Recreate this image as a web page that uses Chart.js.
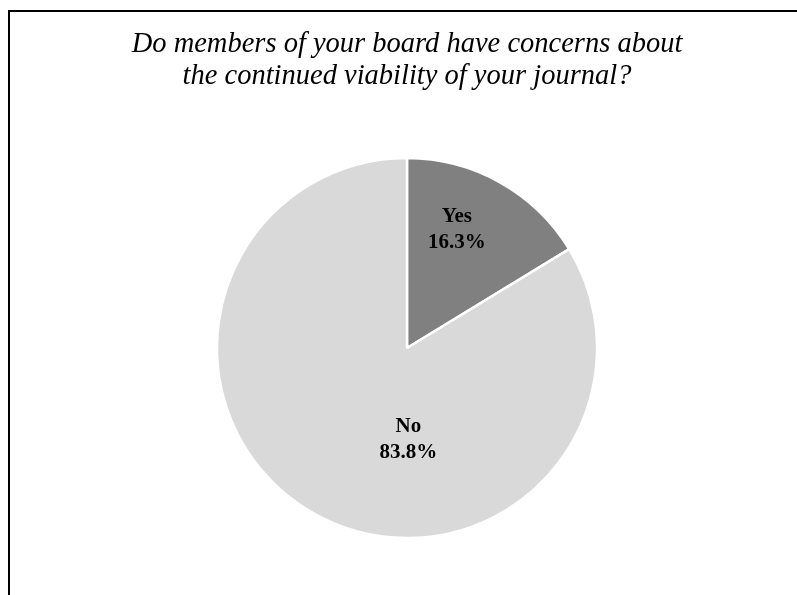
<!DOCTYPE html>
<html lang="en">
<head>
    <meta charset="UTF-8">
    <title>Board concerns about journal viability</title>
    <style>
        html, body {
            margin: 0;
            padding: 0;
            background: #ffffff;
            overflow: hidden;
        }
        .frame {
            position: absolute;
            left: 8px;
            top: 10px;
            width: 1000px;
            height: 1000px;
            border-top: 2px solid #000000;
            border-left: 2px solid #000000;
        }
        canvas {
            position: absolute;
            left: 0;
            top: 0;
        }
    </style>
    <script src="https://cdn.jsdelivr.net/npm/chart.js"></script>
</head>
<body>
    <div class="frame"></div>
    <canvas id="pieCanvas" width="797" height="595"></canvas>

    <script>
        // Datos del gráfico
        const categories = ['Yes', 'No'];
        const percentages = [16.3, 83.8];
        const sliceColors = ['#808080', '#d9d9d9'];
        const titleLines = ['Do members of your board have concerns about', 'the continued viability of your journal?'];

        // where each label sits inside its slice: fraction of the slice angle, fraction of the radius
        const labelAngleFrac = [0.39, 0.40];
        const labelRadiusFrac = [0.675, 0.48];

        const sliceLabels = {
            id: 'sliceLabels',
            afterDatasetsDraw(chart) {
                const c = chart.ctx;
                const arcs = chart.getDatasetMeta(0).data;
                c.save();
                c.font = 'bold 21px "Liberation Serif", "Times New Roman", serif';
                c.fillStyle = '#000000';
                c.textAlign = 'center';
                c.textBaseline = 'middle';
                arcs.forEach((arc, i) => {
                    const a = arc.startAngle + (arc.endAngle - arc.startAngle) * labelAngleFrac[i];
                    const r = arc.outerRadius * labelRadiusFrac[i];
                    const x = arc.x + Math.cos(a) * r;
                    const y = arc.y + Math.sin(a) * r;
                    c.fillText(categories[i], x, y - 13);
                    c.fillText(percentages[i].toFixed(1) + '%', x, y + 13);
                });
                c.restore();
            }
        };

        new Chart(document.getElementById('pieCanvas'), {
            type: 'pie',
            data: {
                labels: categories,
                datasets: [{
                    data: percentages,
                    backgroundColor: sliceColors,
                    borderColor: '#ffffff',
                    borderWidth: 2.5,
                    hoverOffset: 0,
                    radius: 190
                }]
            },
            options: {
                responsive: false,
                animation: false,
                layout: {
                    padding: { left: 17, right: 0, top: 0, bottom: 57 }
                },
                plugins: {
                    legend: { display: false },
                    tooltip: { enabled: false },
                    title: {
                        display: true,
                        text: titleLines,
                        color: '#000000',
                        font: {
                            family: '"Liberation Serif", "Times New Roman", serif',
                            size: 28.5,
                            style: 'italic',
                            weight: 'normal',
                            lineHeight: '32px'
                        },
                        padding: { top: 29, bottom: 65 }
                    }
                }
            },
            plugins: [sliceLabels]
        });
    </script>
</body>
</html>
